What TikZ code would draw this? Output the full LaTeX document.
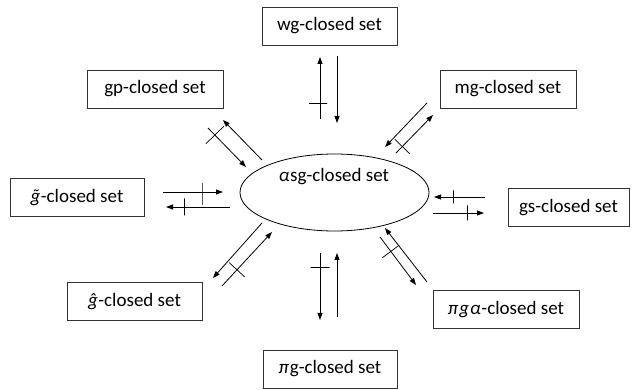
\documentclass[tikz,border=0pt]{standalone}
\usepackage{fontspec}
\setmainfont{Carlito}
\usetikzlibrary{arrows.meta,shapes.geometric}
\newcommand{\symvar}[1]{\textit{#1}\kern0.5pt}
\begin{document}
\begin{tikzpicture}[x=1pt,y=-1pt,
  setbox/.style={draw=black!80, line width=0.8pt, minimum width=#1, minimum height=38pt,
    inner sep=0pt, font=\fontsize{19}{22}\selectfont},
  setbox/.default=135pt,
  arr/.style={line width=0.8pt, -{Triangle[length=7pt,width=5pt]}},
  negmark/.style={sloped, draw, line width=0.7pt, minimum width=0pt, inner sep=0pt,
    minimum height=#1, shape=rectangle},
  negmark/.default=20pt]
\useasboundingbox (0,0) rectangle (635,390);

% central ellipse
\node[draw, ellipse, line width=0.8pt, minimum width=189pt, minimum height=77pt,
  inner sep=0pt] (asg) at (334.5,192.5) {};
\node[font=\fontsize{19}{22}\selectfont] (asgtxt) at (334,177) {\symvar{α}sg-closed set};

% surrounding boxes
\node[setbox] (wg) at (329.5,26) {wg-closed set};
\node[setbox=136pt] (gp) at (155,89) {gp-closed set};
\node[setbox=134pt] (gt) at (77,197.5) {\symvar{\accent"02DC g}-closed set};
\node[setbox=136pt] (mg) at (508,89) {mg-closed set};
\node[setbox=121pt] (gs) at (568.5,207.5) {gs-closed set};
\node[setbox] (gh) at (134.5,301.5) {\symvar{\^g}-closed set};
\node[setbox=134pt] (pg) at (330,369) {\symvar{π}g-closed set};
\node[setbox=146pt] (pga) at (506,309.5) {\symvar{π\kern1pt g\kern1pt α}-closed set};

% free ends of the connectors
\coordinate (wgA) at (320,119); \coordinate (wgB) at (320,57);
\coordinate (wgC) at (337,56);  \coordinate (wgD) at (337,123);
\coordinate (gpA) at (262,160); \coordinate (gpB) at (223,120);
\coordinate (gpC) at (208,128); \coordinate (gpD) at (246,167);
\coordinate (gtA) at (163,192); \coordinate (gtB) at (223,192);
\coordinate (gtC) at (230,207); \coordinate (gtD) at (166,207);
\coordinate (mgA) at (427,103); \coordinate (mgB) at (385,147);
\coordinate (mgC) at (396,153); \coordinate (mgD) at (433,115);
\coordinate (gsA) at (485,197); \coordinate (gsB) at (434,197);
\coordinate (gsC) at (433,213); \coordinate (gsD) at (484,213);
\coordinate (paA) at (427,282); \coordinate (paB) at (385,228);
\coordinate (paC) at (380,237); \coordinate (paD) at (416,285);
\coordinate (pgA) at (320,253); \coordinate (pgB) at (320,320);
\coordinate (pgC) at (337,317); \coordinate (pgD) at (337,253);
\coordinate (ghA) at (262,223); \coordinate (ghB) at (213,278);
\coordinate (ghC) at (222,286); \coordinate (ghD) at (272,232);

% implications, the crossed ones do not hold
\draw[arr] (wgA) -- (wgB) node[negmark=18pt, pos=0.26, yshift=2pt] {};
\draw[arr] (wgC) -- (wgD);

\draw[arr] (gpA) -- (gpB);
\draw[arr] (gpC) -- (gpD) node[negmark=25pt, pos=0.18] {};

\draw[arr] (gtA) -- (gtB) node[negmark=22pt, pos=0.65, yshift=-2pt] {};
\draw[arr] (gtC) -- (gtD) node[negmark=17pt, pos=0.72] {};

\draw[arr] (mgA) -- (mgB);
\draw[arr] (mgC) -- (mgD) node[negmark=21pt, pos=0.17] {};

\draw[arr] (gsA) -- (gsB) node[negmark=13pt, pos=0.63] {};
\draw[arr] (gsC) -- (gsD) node[negmark=15pt, pos=0.67] {};

\draw[arr] (paA) -- (paB);
\draw[arr] (paC) -- (paD) node[negmark=21pt, pos=0.3] {};

\draw[arr] (pgA) -- (pgB) node[negmark=19pt, pos=0.21] {};
\draw[arr] (pgC) -- (pgD);

\draw[arr] (ghA) -- (ghB);
\draw[arr] (ghC) -- (ghD) node[negmark=21pt, pos=0.3] {};
\end{tikzpicture}
\end{document}
